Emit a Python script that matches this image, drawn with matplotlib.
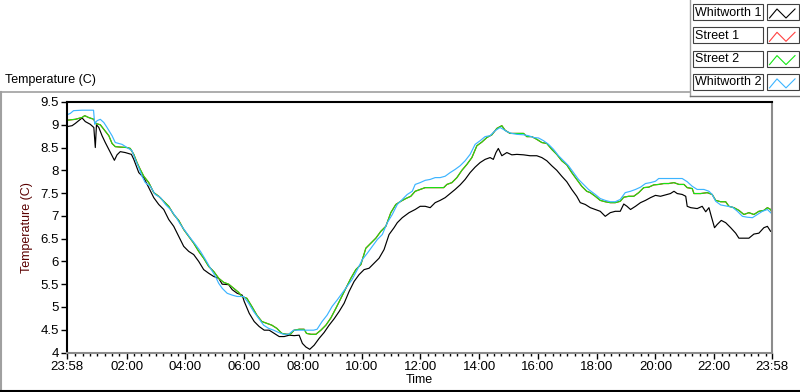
import numpy as np
import matplotlib
matplotlib.use("Agg")
import matplotlib.pyplot as plt
from matplotlib.lines import Line2D
from matplotlib.patches import Rectangle

plt.rcParams["font.family"] = ["Liberation Sans", "DejaVu Sans"]

# time in hours after midnight (23:58 of previous day = -0.03), temperature in C
whitworth1_t = [-0.03, 0.14, 0.25, 0.48, 0.59, 0.76, 0.88, 0.93, 0.97, 1.05, 1.16, 1.27, 1.39, 1.50,
                1.58, 1.67, 1.78, 1.95, 2.16, 2.24, 2.41, 2.58, 2.75, 2.92, 3.09, 3.26, 3.43, 3.60,
                3.77, 3.94, 4.11, 4.28, 4.45, 4.62, 4.79, 4.96, 5.13, 5.25, 5.47, 5.59, 5.76, 5.93,
                6.00, 6.17, 6.34, 6.51, 6.68, 6.85, 7.02, 7.19, 7.36, 7.53, 7.70, 7.87, 7.98, 8.10,
                8.23, 8.38, 8.55, 8.72, 8.89, 9.06, 9.23, 9.40, 9.57, 9.74, 9.91, 10.08, 10.25, 10.42,
                10.59, 10.76, 10.93, 11.10, 11.21, 11.38, 11.61,
                11.82, 11.99, 12.16, 12.33, 12.50, 12.67, 12.84, 13.01, 13.18, 13.35, 13.52, 13.69,
                13.86, 14.03, 14.20, 14.37, 14.48, 14.57, 14.65, 14.77, 14.94, 15.11, 15.28, 15.51,
                15.73, 15.96, 16.13, 16.30, 16.47, 16.64, 16.81, 16.98, 17.15, 17.32, 17.44, 17.61,
                17.78, 17.95, 18.12, 18.29, 18.46, 18.63, 18.80, 18.92, 19.03, 19.15, 19.32, 19.49,
                19.66, 19.83, 20.00, 20.17, 20.34, 20.51, 20.63, 20.74, 20.91, 21.03, 21.08, 21.20,
                21.42, 21.59, 21.71, 21.82, 21.90, 22.01, 22.10, 22.24, 22.39, 22.56, 22.73, 22.84,
                23.01, 23.18, 23.35, 23.52, 23.69, 23.81, 23.92, 23.97]
whitworth1_v = [8.96, 8.98, 9.03, 9.15, 9.07, 9.01, 8.94, 8.50, 9.00, 8.94, 8.76, 8.61, 8.46, 8.32,
                8.22, 8.34, 8.41, 8.39, 8.35, 8.24, 7.95, 7.84, 7.62, 7.40, 7.25, 7.14, 6.92, 6.77,
                6.55, 6.33, 6.22, 6.15, 6.00, 5.82, 5.74, 5.67, 5.63, 5.50, 5.49, 5.38, 5.30, 5.26,
                5.12, 4.86, 4.68, 4.57, 4.49, 4.49, 4.42, 4.35, 4.35, 4.38, 4.37, 4.38, 4.20, 4.12,
                4.07, 4.16, 4.31, 4.44, 4.60, 4.74, 4.90, 5.08, 5.34, 5.56, 5.71, 5.82, 5.85, 5.96,
                6.07, 6.26, 6.59, 6.74, 6.85, 6.96, 7.07,
                7.14, 7.21, 7.21, 7.18, 7.29, 7.34, 7.40, 7.49, 7.58, 7.68, 7.80, 7.95,
                8.07, 8.17, 8.24, 8.28, 8.24, 8.39, 8.48, 8.32, 8.39, 8.34, 8.35, 8.34,
                8.32, 8.32, 8.28, 8.21, 8.10, 8.00, 7.87, 7.75, 7.58, 7.43, 7.29, 7.25,
                7.18, 7.14, 7.10, 6.99, 7.07, 7.10, 7.10, 7.26, 7.21, 7.14, 7.21, 7.29,
                7.34, 7.40, 7.45, 7.43, 7.46, 7.49, 7.54, 7.49, 7.47, 7.43, 7.21, 7.18,
                7.16, 7.21, 7.09, 7.18, 6.99, 6.74, 6.81, 6.90, 6.85, 6.74, 6.62, 6.51,
                6.51, 6.51, 6.60, 6.62, 6.74, 6.77, 6.66, 6.65]

street2_t = [-0.03, 0.25, 0.48, 0.57, 0.70, 0.88, 0.93, 1.10, 1.22, 1.39, 1.50, 1.61, 1.78, 2.01,
             2.12, 2.24, 2.35, 2.46, 2.58, 2.75, 2.92, 3.09, 3.26, 3.43, 3.60, 3.77, 3.94, 4.11,
             4.28, 4.45, 4.62, 4.79, 4.96, 5.13, 5.30, 5.47, 5.64, 5.81,
             5.92, 6.09, 6.26, 6.43, 6.60, 6.77, 6.94, 7.11, 7.28, 7.45, 7.57, 7.70, 7.87, 8.04,
             8.12, 8.27, 8.44, 8.61, 8.78, 8.95, 9.12, 9.29, 9.46, 9.63, 9.80, 9.97, 10.14, 10.31,
             10.48, 10.65, 10.82, 10.99, 11.16, 11.33, 11.50, 11.67,
             11.82, 11.99, 12.16, 12.33, 12.56, 12.79, 12.90, 13.07, 13.24, 13.41, 13.58, 13.75,
             13.92, 14.09, 14.26, 14.43, 14.60, 14.77, 14.88, 15.05, 15.28, 15.51, 15.62, 15.79,
             15.96, 16.13, 16.30, 16.47, 16.64, 16.81, 16.98, 17.15, 17.32, 17.49, 17.66,
             17.78, 17.95, 18.12, 18.29, 18.46, 18.63, 18.80, 18.92, 19.09, 19.26, 19.43, 19.60,
             19.77, 19.94, 20.11, 20.28, 20.45, 20.63, 20.80, 20.97, 21.08, 21.25, 21.31, 21.54,
             21.76, 21.93, 22.05, 22.22, 22.39, 22.50, 22.67, 22.84, 23.01, 23.18, 23.35, 23.52,
             23.69, 23.81, 23.92, 23.97]
street2_v = [9.10, 9.12, 9.16, 9.20, 9.16, 9.12, 9.03, 9.00, 8.90, 8.76, 8.59, 8.52, 8.51, 8.50,
             8.48, 8.35, 8.17, 8.02, 7.87, 7.73, 7.51, 7.43, 7.32, 7.21, 7.03, 6.90, 6.70, 6.55,
             6.40, 6.22, 6.07, 5.89, 5.78, 5.63, 5.54, 5.50, 5.41, 5.32,
             5.23, 5.19, 5.01, 4.82, 4.68, 4.64, 4.60, 4.53, 4.42, 4.40, 4.40, 4.49, 4.51, 4.51,
             4.42, 4.40, 4.40, 4.49, 4.60, 4.76, 4.97, 5.19, 5.41, 5.63, 5.82, 5.93, 6.29, 6.40,
             6.51, 6.66, 6.77, 7.07, 7.25, 7.32, 7.38, 7.43,
             7.54, 7.58, 7.62, 7.62, 7.62, 7.62, 7.69, 7.73, 7.84, 8.00, 8.13, 8.28,
             8.54, 8.62, 8.72, 8.78, 8.92, 8.98, 8.88, 8.81, 8.81, 8.81, 8.74, 8.74,
             8.68, 8.61, 8.59, 8.46, 8.35, 8.21, 8.12, 7.95, 7.80, 7.65, 7.54,
             7.51, 7.43, 7.34, 7.31, 7.29, 7.29, 7.32, 7.41, 7.43, 7.43, 7.51, 7.62,
             7.63, 7.68, 7.69, 7.71, 7.71, 7.73, 7.69, 7.69, 7.62, 7.60, 7.49, 7.49,
             7.51, 7.47, 7.34, 7.31, 7.31, 7.21, 7.18, 7.12, 7.03, 7.07, 7.03, 7.10,
             7.12, 7.18, 7.14, 7.07]

# Street 1 is hidden under Street 2 in the reference
street1_t = list(street2_t)
street1_v = list(street2_v)

whitworth2_t = [-0.03, 0.08, 0.19, 0.48, 0.70, 0.87, 0.91, 0.99, 1.10, 1.22, 1.33, 1.50, 1.61, 1.84,
                2.01, 2.18, 2.29, 2.41, 2.52, 2.63, 2.80, 2.97, 3.15, 3.32, 3.49, 3.66, 3.83, 4.00,
                4.17, 4.34, 4.51, 4.68, 4.85, 5.02, 5.13, 5.25, 5.42, 5.59, 5.76,
                5.98, 6.15, 6.32, 6.49, 6.66, 6.83, 7.00, 7.17, 7.34, 7.51, 7.68, 7.91, 8.14, 8.36,
                8.48, 8.65, 8.82, 8.99, 9.16, 9.33, 9.50, 9.67, 9.85, 10.02, 10.19, 10.36, 10.53,
                10.70, 10.87, 11.04, 11.21, 11.38, 11.55, 11.72,
                11.82, 11.99, 12.16, 12.33, 12.50, 12.67, 12.84, 13.01, 13.18, 13.35, 13.52, 13.69,
                13.86, 14.03, 14.20, 14.37, 14.54, 14.71, 14.82, 14.94, 15.11, 15.28, 15.51, 15.68,
                15.85, 16.02, 16.19, 16.36, 16.53, 16.70, 16.87, 17.04, 17.21, 17.38, 17.55, 17.72,
                17.95, 18.12, 18.29, 18.46, 18.63, 18.80, 18.97, 19.15, 19.32, 19.49, 19.66, 19.83,
                20.00, 20.11, 20.34, 20.63, 20.91, 21.08, 21.25, 21.42, 21.65, 21.82, 21.93, 22.05,
                22.22, 22.45, 22.62, 22.79, 22.96, 23.13, 23.30, 23.47, 23.64, 23.81, 23.97]
whitworth2_v = [9.22, 9.25, 9.31, 9.32, 9.32, 9.32, 9.01, 9.09, 9.12, 9.05, 8.94, 8.76, 8.61, 8.57,
                8.50, 8.43, 8.24, 8.06, 7.87, 7.73, 7.65, 7.47, 7.40, 7.25, 7.14, 6.99, 6.81, 6.66,
                6.51, 6.37, 6.22, 6.04, 5.85, 5.67, 5.52, 5.41, 5.30, 5.26, 5.23,
                5.23, 5.08, 4.90, 4.75, 4.60, 4.53, 4.49, 4.44, 4.40, 4.40, 4.49, 4.49, 4.49, 4.49,
                4.51, 4.68, 4.82, 5.01, 5.15, 5.30, 5.45, 5.60, 5.82, 6.04, 6.18, 6.33, 6.48,
                6.59, 6.85, 7.03, 7.25, 7.36, 7.47, 7.54,
                7.69, 7.73, 7.78, 7.80, 7.84, 7.84, 7.87, 7.95, 8.02, 8.10, 8.21, 8.35,
                8.57, 8.65, 8.74, 8.76, 8.87, 8.94, 8.90, 8.85, 8.81, 8.79, 8.78, 8.76,
                8.72, 8.71, 8.65, 8.57, 8.46, 8.32, 8.21, 8.10, 7.95, 7.80, 7.69, 7.58,
                7.47, 7.38, 7.34, 7.31, 7.31, 7.36, 7.51, 7.54, 7.58, 7.63, 7.71, 7.73,
                7.76, 7.82, 7.82, 7.82, 7.82, 7.75, 7.65, 7.58, 7.58, 7.54, 7.47, 7.32,
                7.24, 7.21, 7.19, 7.10, 6.99, 6.97, 6.96, 7.03, 7.10, 7.14, 7.04]

series_names = ["Whitworth 1", "Street 1", "Street 2", "Whitworth 2"]
series_colors = ["black", "#ff0000", "#14e614", "#3cb4ff"]
swatch_colors = ["black", "#ff4040", "#14e614", "#3cb4ff"]

x_tick_pos = [-2 / 60, 2, 4, 6, 8, 10, 12, 14, 16, 18, 20, 22, 24 - 2 / 60]
x_tick_labels = ["23:58", "02:00", "04:00", "06:00", "08:00", "10:00", "12:00",
                 "14:00", "16:00", "18:00", "20:00", "22:00", "23:58"]
y_ticks = [4, 4.5, 5, 5.5, 6, 6.5, 7, 7.5, 8, 8.5, 9, 9.5]

W, H = 800, 392
fig = plt.figure(figsize=(W / 100, H / 100), dpi=100)


def fx(px):
    return px / W


def fy(py):
    return 1 - py / H


ax = fig.add_axes([fx(67), fy(352.5), fx(772) - fx(67), fy(102) - fy(352.5)])

data = [(whitworth1_t, whitworth1_v), (street1_t, street1_v),
        (street2_t, street2_v), (whitworth2_t, whitworth2_v)]
for (t, v), c in zip(data, series_colors):
    ax.plot(t, v, color=c, linewidth=0.85)

ax.set_xlim(x_tick_pos[0], x_tick_pos[-1])
ax.set_ylim(4, 9.5)
ax.set_xticks(x_tick_pos)
ax.set_xticklabels(x_tick_labels)
ax.set_xticks(np.arange(0.25, 24, 0.25), minor=True)
ax.set_yticks(y_ticks)
ax.set_yticklabels(["%g" % y for y in y_ticks])
ax.tick_params(axis="both", which="major", length=4, width=1, direction="out",
               labelsize=9.5, color="black", pad=2)
ax.tick_params(axis="x", which="minor", length=2.5, width=1, color="black")

for side in ["top", "left"]:
    ax.spines[side].set_color("black")
    ax.spines[side].set_linewidth(1.5)
for side in ["bottom", "right"]:
    ax.spines[side].set_color("#8c8c8c")
    ax.spines[side].set_linewidth(1.5)

ax.set_xlabel("Time", fontsize=9, labelpad=1)
ax.set_ylabel("Temperature (C)", fontsize=9, color="#5a0000", labelpad=5)

# outer panel frame
gray = "#a0a0a0"
fig.add_artist(Line2D([fx(0), fx(690)], [fy(92), fy(92)], color=gray, lw=1.2))
fig.add_artist(Line2D([fx(0.5), fx(0.5)], [fy(92), fy(392)], color=gray, lw=1.5))
fig.add_artist(Line2D([fx(0), fx(800)], [fy(391), fy(391)], color="black", lw=1.5))
fig.add_artist(Line2D([fx(690), fx(690)], [fy(0), fy(96)], color=gray, lw=1.0))
fig.add_artist(Line2D([fx(690), fx(800)], [fy(96), fy(96)], color="#707070", lw=1.0))
fig.text(fx(5), fy(80), "Temperature (C)", fontsize=9, va="center", ha="left")

# plot legend
for i, (name, c) in enumerate(zip(series_names, swatch_colors)):
    top = 4 + i * 23.3
    fig.add_artist(Rectangle((fx(693), fy(top + 16)), fx(70), fy(0) - fy(16),
                             facecolor="white", edgecolor="#404040", lw=0.8))
    fig.add_artist(Rectangle((fx(767), fy(top + 16)), fx(32), fy(0) - fy(16),
                             facecolor="white", edgecolor="#404040", lw=0.8))
    fig.text(fx(695), fy(top + 8.5), name, fontsize=9, va="center", ha="left")
    zx = [769.5, 777, 786, 795]
    zy = [top + 14, top + 5, top + 14, top + 5]
    fig.add_artist(Line2D([fx(p) for p in zx], [fy(p) for p in zy], color=c, lw=0.8))

fig.savefig("out.png", dpi=100, facecolor="white")
